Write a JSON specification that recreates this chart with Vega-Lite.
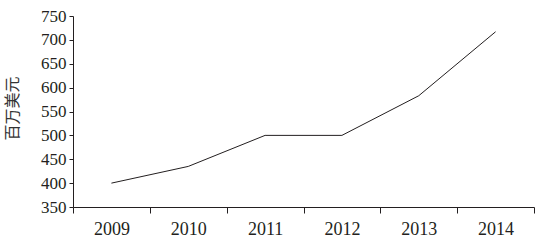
{
  "$schema": "https://vega.github.io/schema/vega-lite/v6.json",
  "width": 461,
  "height": 191,
  "autosize": {"type": "none"},
  "padding": {"left": 73, "top": 16, "right": 13, "bottom": 37},
  "background": "white",
  "config": {
    "view": {"stroke": null},
    "axis": {
      "labelFont": "Liberation Serif",
      "titleFont": "Noto Sans CJK SC",
      "labelColor": "#231f20",
      "domainColor": "#231f20",
      "tickColor": "#231f20",
      "grid": false
    }
  },
  "data": {
    "values": [
      {"year": "2009", "value": 400},
      {"year": "2010", "value": 435},
      {"year": "2011", "value": 500},
      {"year": "2012", "value": 500},
      {"year": "2013", "value": 583},
      {"year": "2014", "value": 717}
    ]
  },
  "mark": {"type": "line", "color": "#231f20", "strokeWidth": 1},
  "encoding": {
    "x": {
      "field": "year",
      "type": "ordinal",
      "scale": {"paddingInner": 0, "paddingOuter": 0},
      "axis": {
        "title": null,
        "labelAngle": 0,
        "labelFontSize": 18,
        "labelPadding": 7,
        "tickBand": "extent",
        "tickSize": 6,
        "domainWidth": 1,
        "tickWidth": 1
      }
    },
    "y": {
      "field": "value",
      "type": "quantitative",
      "scale": {"domain": [350, 750], "nice": false, "zero": false},
      "axis": {
        "title": "百万美元",
        "values": [350, 400, 450, 500, 550, 600, 650, 700, 750],
        "labelFontSize": 17,
        "labelPadding": 3,
        "tickSize": 4,
        "titleFontSize": 16,
        "titleFontWeight": "normal",
        "titleColor": "#333333",
        "titleX": -61,
        "titleY": 92,
        "titleAngle": -90,
        "titleAlign": "center",
        "titleBaseline": "middle"
      }
    }
  }
}
